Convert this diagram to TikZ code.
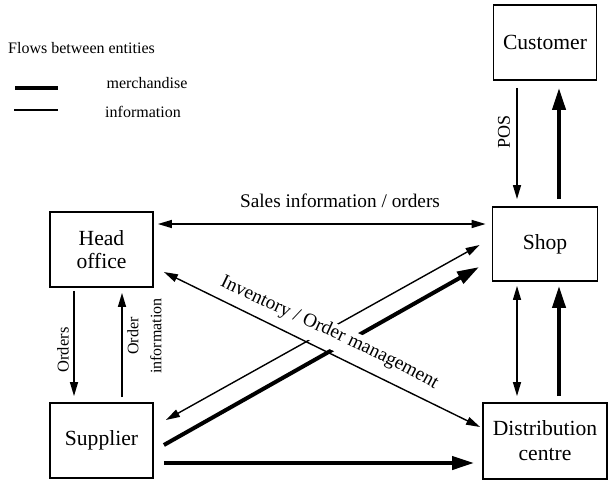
\documentclass[tikz,border=0pt]{standalone}
\usepackage{fontspec}
\setmainfont{Liberation Serif}
\usetikzlibrary{arrows.meta,decorations.text}

\begin{document}
\begin{tikzpicture}[x=1pt,y=-1pt,
  box/.style={draw, line width=1.8pt, inner sep=0pt, align=center,
    font=\rmfamily\fontsize{21.6}{23}\selectfont},
  thinarr/.style={line width=1.4pt, >={Triangle[length=14pt,width=8pt]}},
  thickarr/.style={line width=4pt, >={Triangle[length=22pt,width=13pt]}},
  lbl/.style={inner sep=0pt, font=\rmfamily\fontsize{#1}{#1}\selectfont},
  lbl/.default=16
]
\useasboundingbox (0,0) rectangle (610,482);

% entities
\node[box, minimum width=103pt, minimum height=75pt] (cust) at (545,42.5) {Customer};
\node[box, minimum width=105pt, minimum height=74pt] (shop) at (545,244) {Shop};
\node[box, minimum width=103pt, minimum height=75pt] (head) at (101.5,249.5) {Head\\office};
\node[box, minimum width=103pt, minimum height=75pt] (supp) at (101.5,440.5) {Supplier};
\node[box, minimum width=124pt, minimum height=76pt, font=\rmfamily\fontsize{21.6}{25}\selectfont] (dist) at (545,441) {Distribution\\centre};

% legend
\node[lbl, anchor=west] (legtitle) at (8,48) {Flows between entities};
\coordinate (mA) at (15,88);  \coordinate (mB) at (58,88);
\coordinate (iA) at (14,110); \coordinate (iB) at (58,110);
\draw[line width=4pt] (mA) -- (mB);
\draw[line width=1.4pt] (iA) -- (iB);
\node[lbl] (legm) at (147,83) {merchandise};
\node[lbl] (legi) at (143,112) {information};

% customer <-> shop
\draw[thinarr,->] ([xshift=-28pt,yshift=-7pt]cust.south) -- ([xshift=-28pt,yshift=7pt]shop.north);
\draw[thickarr,->] ([xshift=14pt,yshift=7pt]shop.north) -- ([xshift=14pt,yshift=-7pt]cust.south);
\node[lbl=18, rotate=90] (pos) at (504,132) {POS};

% shop <-> distribution centre
\draw[thinarr,<->] ([xshift=-28pt,yshift=-4pt]shop.south) -- ([xshift=-28pt,yshift=6pt]dist.north);
\draw[thickarr,->] ([xshift=14pt,yshift=6pt]dist.north) -- ([xshift=14pt,yshift=-4pt]shop.south);

% head office <-> supplier
\draw[thinarr,->] ([xshift=-27.5pt,yshift=-3pt]head.south) -- ([xshift=-27.5pt,yshift=6pt]supp.north);
\draw[thinarr,->] ([xshift=20.5pt,yshift=5pt]supp.north) -- ([xshift=20.5pt,yshift=-5pt]head.south);
\node[lbl=16.5, rotate=90] (ordlbl) at (63,350) {Orders};
\node[lbl=16, rotate=90, align=center, font=\rmfamily\fontsize{16}{23}\selectfont] (oinfo) at (144.5,336) {Order\\information};

% sales information
\draw[thinarr,<->] ([shift={(4,-25.5)}]head.east) -- ([shift={(-6,-20)}]shop.west);
\node[lbl=19.3] (saleslbl) at (340,201) {Sales information / orders};

% supplier flows
\draw[thinarr,<->] ([shift={(12,-20.5)}]supp.east) -- ([shift={(-12,1)}]shop.west);
\draw[thickarr,->] ([shift={(10,4.5)}]supp.east) -- ([shift={(-12.5,23)}]shop.west);
\draw[thickarr,->] ([shift={(10,22.5)}]supp.east) -- ([shift={(-8,22)}]dist.west);

% inventory / order management: the label breaks the crossing lines
\draw[white, line width=26pt, yshift=1pt, shorten <=40pt, shorten >=40pt]
  (214,283) .. controls (290,320) and (365,349) .. (440,392);
\draw[thinarr,<->] ([shift={(10,22.5)}]head.east) -- ([shift={(-2,-14)}]dist.west);
\path[decorate, decoration={text along path, text align=center,
  text={|\rmfamily\fontsize{19.3}{20}\selectfont|Inventory / Order management}}]
  (214,283) .. controls (290,320) and (365,349) .. (440,392);
\end{tikzpicture}
\end{document}
